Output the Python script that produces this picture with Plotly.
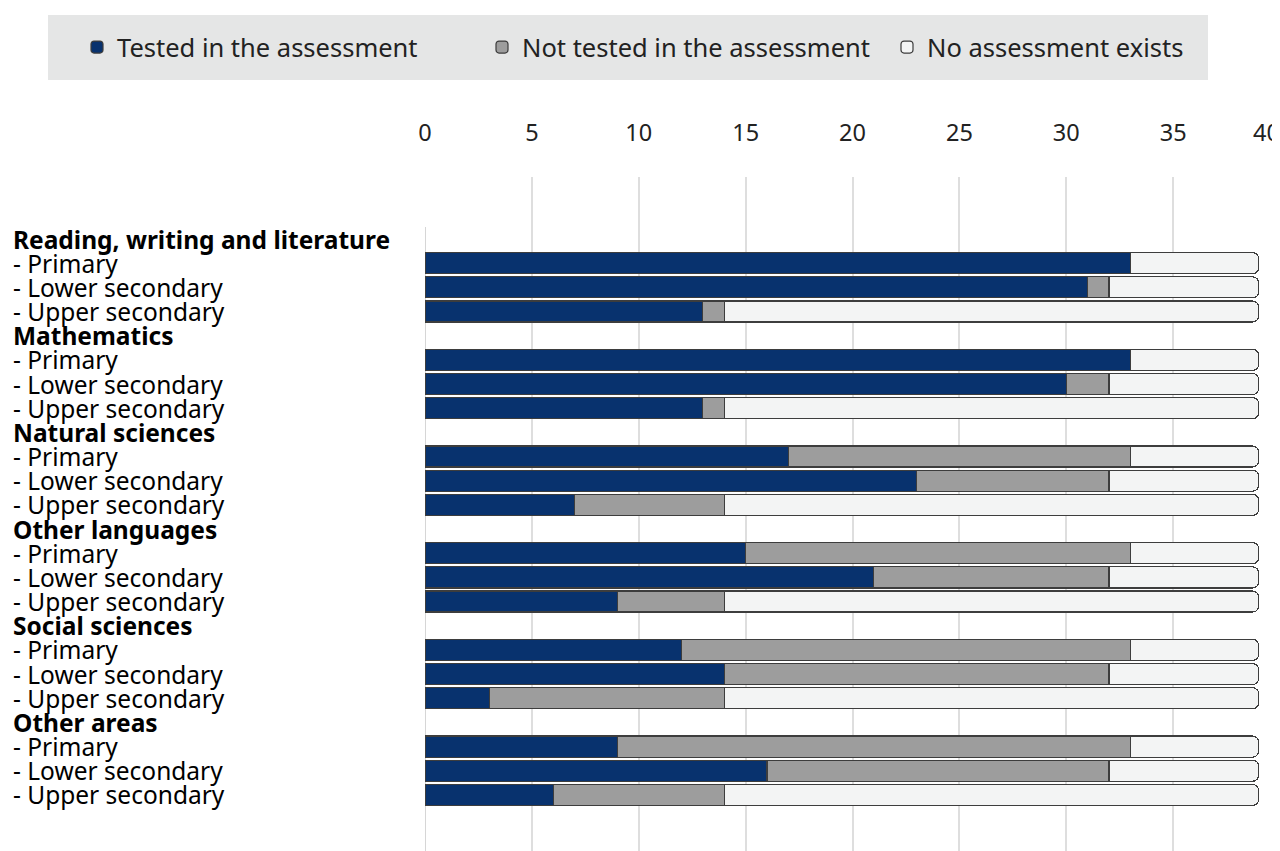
import plotly.graph_objects as go

groups = ["Reading, writing and literature", "Mathematics", "Natural sciences",
          "Other languages", "Social sciences", "Other areas"]
levels = ["Primary", "Lower secondary", "Upper secondary"]

tested = [33, 31, 13, 33, 30, 13, 17, 23, 7, 15, 21, 9, 12, 14, 3, 9, 16, 6]
not_tested = [0, 1, 1, 0, 2, 1, 16, 9, 7, 18, 11, 5, 21, 18, 11, 24, 16, 8]
no_assessment = [6, 7, 25, 6, 7, 25, 6, 7, 25, 6, 7, 25, 6, 7, 25, 6, 7, 25]

series_names = ["Tested in the assessment", "Not tested in the assessment", "No assessment exists"]
series_values = [tested, not_tested, no_assessment]
colors = ["#08326e", "#9d9d9d", "#f3f4f4"]
x_ticks = [0, 5, 10, 15, 20, 25, 30, 35, 40]

FONT = "Noto Sans"
OFF = 8  # page body margin
PAGE_W, PAGE_H = 1280, 851
W, H = PAGE_W - OFF, PAGE_H - OFF
# plot area in page pixels
PL, PR, PT, PB = 425, 1280, 177, 851
L, R, T, B = PL - OFF, PAGE_W - PR, PT - OFF, PAGE_H - PB
pw, ph = W - L - R, H - T - B

def px_x(p):
    return (p - PL) / pw

def px_y(p):
    return (PB - p) / ph

# row positions: header row then 3 level rows per group
rows = []
for g in range(len(groups)):
    for l in range(len(levels)):
        rows.append(g * 4 + 1 + l)

fig = go.Figure()
for name, vals, col in zip(series_names, series_values, colors):
    fig.add_trace(go.Bar(
        y=rows, x=vals, name=name, orientation="h",
        marker=dict(color=col, line=dict(color="#3d3d3d", width=1.2)),
        width=0.87,
    ))

LABEL_SIZE = 24.5
annotations = []
for g, gname in enumerate(groups):
    annotations.append(dict(
        x=px_x(11), xref="paper", y=g * 4, yref="y", text="<b>" + gname + "</b>",
        showarrow=False, xanchor="left", yanchor="middle",
        font=dict(family=FONT, size=LABEL_SIZE, color="#000")))
    for l, lname in enumerate(levels):
        annotations.append(dict(
            x=px_x(11), xref="paper", y=g * 4 + 1 + l, yref="y", text="- " + lname,
            showarrow=False, xanchor="left", yanchor="middle",
            font=dict(family=FONT, size=LABEL_SIZE, color="#000")))

ticktext = [str(v) for v in x_ticks]
# last label is pushed left so that it stays inside the page, as in the original
ticktext[-1] = ticktext[-1] + "<span style='color:rgba(0,0,0,0)'>00</span>"

y_top = -2.565
y_bot = 25.32

fig.update_layout(
    width=W, height=H,
    margin=dict(l=L, r=R, t=T, b=B, pad=0, autoexpand=False),
    plot_bgcolor="white", paper_bgcolor="white",
    barmode="stack",
    barcornerradius=6,
    font=dict(family=FONT, color="#222"),
    xaxis=dict(side="top", range=[0, 40], tickvals=x_ticks, ticktext=ticktext,
               showgrid=True, gridcolor="#dedede", gridwidth=1.5,
               zeroline=False, showline=False, ticks="", automargin=False,
               tickfont=dict(family=FONT, size=23.5, color="#222"),
               ticklabelstandoff=30, ticklabeloverflow="allow", fixedrange=True),
    yaxis=dict(range=[y_bot, y_top], showticklabels=False, showgrid=False,
               zeroline=False, showline=False, fixedrange=True, automargin=False),
    showlegend=True,
    legend=dict(orientation="h", x=px_x(77), xanchor="left",
                y=px_y(47.5), yanchor="middle",
                bgcolor="rgba(0,0,0,0)", font=dict(family=FONT, size=25.5, color="#222"),
                entrywidth=360, traceorder="normal"),
    shapes=[
        dict(type="rect", xref="paper", yref="paper",
             x0=px_x(48), x1=px_x(1208), y0=px_y(80), y1=px_y(15),
             fillcolor="#e5e6e6", line=dict(width=0), layer="below"),
        dict(type="line", xref="x", yref="y", x0=0, x1=0, y0=-0.5, y1=y_bot,
             line=dict(color="#c8c8c8", width=1.5), layer="below"),
    ],
    annotations=annotations,
)

fig.write_html("out.html")
